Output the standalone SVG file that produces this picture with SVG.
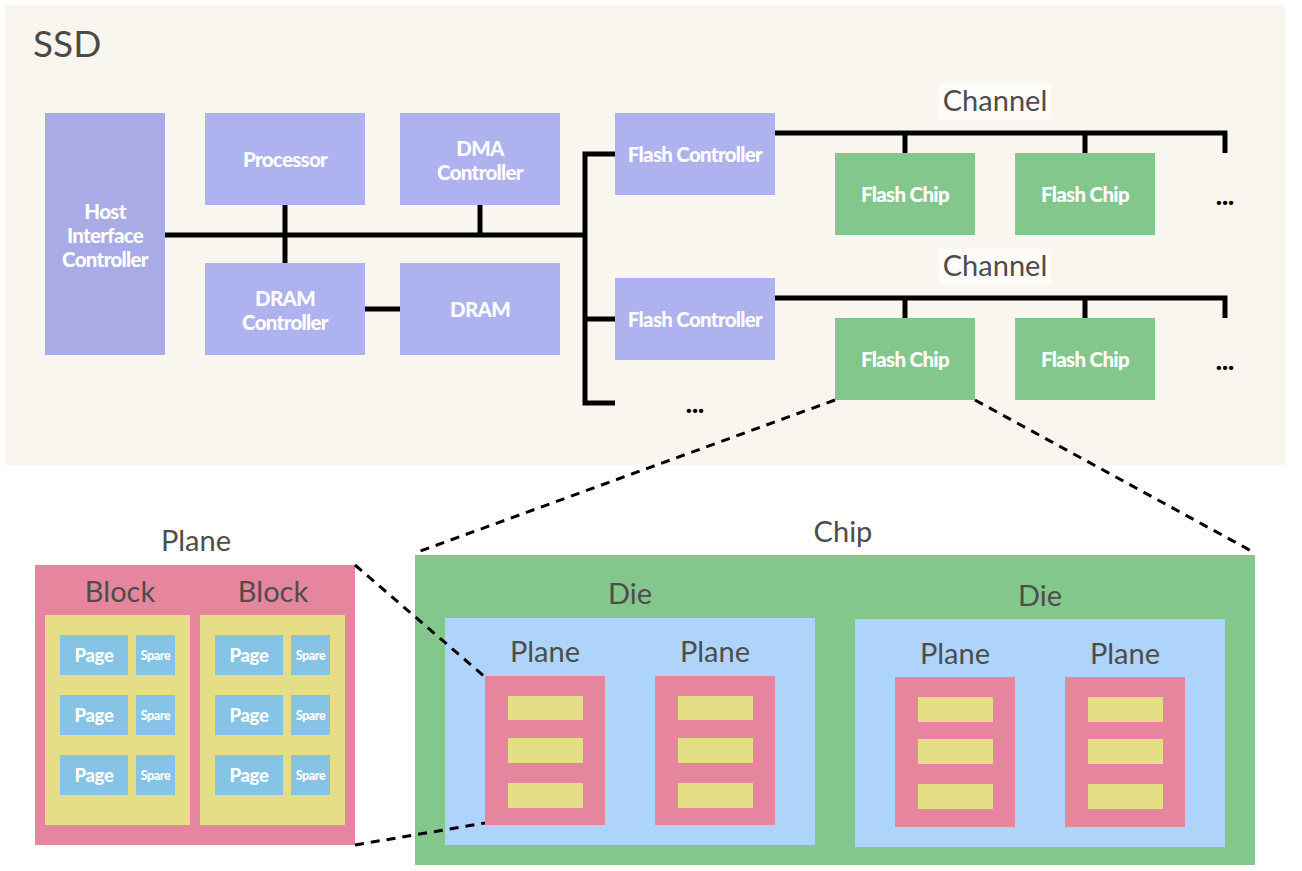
<svg xmlns="http://www.w3.org/2000/svg" width="1302" height="871" viewBox="0 0 1302 871">
<style>
.bg{fill:#f8f6ee}
.ctl{fill:#aeb2ee}
.host{fill:#a9abe6}
.chip{fill:#84c78d}
.die{fill:#afd4fb}
.plane{fill:#e5869e}
.blk{fill:#e6de87}
.page{fill:#85c4e5}
.nt{font-family:Lato,"Open Sans","DejaVu Sans",sans-serif;font-weight:900;fill:#ffffff;font-size:20.5px;text-anchor:middle;letter-spacing:-0.7px}
.lb{font-family:Lato,"Open Sans","DejaVu Sans",sans-serif;fill:#4d4d4d;font-size:29px;text-anchor:middle}
.pt{font-family:Lato,"Open Sans","DejaVu Sans",sans-serif;font-weight:900;fill:#ffffff;font-size:18.5px;text-anchor:middle;letter-spacing:-0.3px}
.st{font-family:Lato,"Open Sans","DejaVu Sans",sans-serif;font-weight:900;fill:#ffffff;font-size:12.5px;text-anchor:middle;letter-spacing:-0.4px}
.dots{font-family:Lato,"Open Sans","DejaVu Sans",sans-serif;font-weight:900;fill:#000000;font-size:26px;text-anchor:middle}
.bus{fill:none;stroke:#000;stroke-width:5}
.dash{fill:none;stroke:#000;stroke-width:3;stroke-dasharray:9 7}
</style>
<rect width="1302" height="871" fill="#ffffff"/>
<g id="ssd">
<rect class="bg" x="5" y="5" width="1280" height="460"/>
<text x="33" y="57" font-family="Lato,'Open Sans',sans-serif" font-size="37" fill="#4a4a4a">SSD</text>
</g>
<g id="host"><rect class="host" x="45" y="113" width="120" height="242"/>
<text class="nt" x="105" y="219">Host</text><text class="nt" x="105" y="243">Interface</text><text class="nt" x="105" y="267">Controller</text></g>
<g id="processor"><rect class="ctl" x="205" y="113" width="160" height="92"/><text class="nt" x="285" y="167">Processor</text></g>
<g id="dma"><rect class="ctl" x="400" y="113" width="160" height="92"/><text class="nt" x="480" y="156">DMA</text><text class="nt" x="480" y="180">Controller</text></g>
<g id="dramctl"><rect class="ctl" x="205" y="263" width="160" height="92"/><text class="nt" x="285" y="306">DRAM</text><text class="nt" x="285" y="330">Controller</text></g>
<g id="dram"><rect class="ctl" x="400" y="263" width="160" height="92"/><text class="nt" x="480" y="317">DRAM</text></g>
<g id="fc1"><rect class="ctl" x="615" y="113" width="160" height="82"/><text class="nt" x="695" y="162">Flash Controller</text></g>
<g id="fc2"><rect class="ctl" x="615" y="278" width="160" height="82"/><text class="nt" x="695" y="327">Flash Controller</text></g>
<g id="more-fc"><text class="dots" x="695" y="413">...</text></g>
<g id="channel1"><rect x="939" y="84" width="112" height="35" fill="#fdfcf9"/><text class="lb" x="995" y="111">Channel</text></g>
<g id="channel2"><rect x="939" y="249" width="112" height="35" fill="#fdfcf9"/><text class="lb" x="995" y="276">Channel</text></g>
<g id="chip11"><rect class="chip" x="835" y="153" width="140" height="82"/><text class="nt" x="905" y="202">Flash Chip</text></g>
<g id="chip12"><rect class="chip" x="1015" y="153" width="140" height="82"/><text class="nt" x="1085" y="202">Flash Chip</text></g>
<g id="more1"><text class="dots" x="1225" y="205">...</text></g>
<g id="chip21"><rect class="chip" x="835" y="318" width="140" height="82"/><text class="nt" x="905" y="367">Flash Chip</text></g>
<g id="chip22"><rect class="chip" x="1015" y="318" width="140" height="82"/><text class="nt" x="1085" y="367">Flash Chip</text></g>
<g id="more2"><text class="dots" x="1225" y="370">...</text></g>

<g id="plane-detail">
<text class="lb" x="196" y="551">Plane</text>
<rect class="plane" x="35" y="565" width="320" height="280"/>
<text class="lb" x="120" y="602">Block</text>
<text class="lb" x="273" y="602">Block</text>
<rect class="blk" x="45" y="615" width="145" height="210"/>
<rect class="blk" x="200" y="615" width="145" height="210"/>
<g id="b1p1"><rect class="page" x="60" y="635" width="68" height="40"/><text class="pt" x="94" y="662">Page</text><rect class="page" x="136" y="635" width="39" height="40"/><text class="st" x="155.5" y="660">Spare</text></g>
<g id="b1p2"><rect class="page" x="60" y="695" width="68" height="40"/><text class="pt" x="94" y="722">Page</text><rect class="page" x="136" y="695" width="39" height="40"/><text class="st" x="155.5" y="720">Spare</text></g>
<g id="b1p3"><rect class="page" x="60" y="755" width="68" height="40"/><text class="pt" x="94" y="782">Page</text><rect class="page" x="136" y="755" width="39" height="40"/><text class="st" x="155.5" y="780">Spare</text></g>
<g id="b2p1"><rect class="page" x="215" y="635" width="68" height="40"/><text class="pt" x="249" y="662">Page</text><rect class="page" x="291" y="635" width="39" height="40"/><text class="st" x="310.5" y="660">Spare</text></g>
<g id="b2p2"><rect class="page" x="215" y="695" width="68" height="40"/><text class="pt" x="249" y="722">Page</text><rect class="page" x="291" y="695" width="39" height="40"/><text class="st" x="310.5" y="720">Spare</text></g>
<g id="b2p3"><rect class="page" x="215" y="755" width="68" height="40"/><text class="pt" x="249" y="782">Page</text><rect class="page" x="291" y="755" width="39" height="40"/><text class="st" x="310.5" y="780">Spare</text></g>
</g>

<g id="chip-detail">
<text class="lb" x="843" y="542">Chip</text>
<rect class="chip" x="415" y="555" width="840" height="310"/>
<g id="die1">
<text class="lb" x="630" y="604">Die</text>
<rect class="die" x="445" y="618" width="370" height="227"/>
<text class="lb" x="545" y="662">Plane</text>
<text class="lb" x="715" y="662">Plane</text>
<rect class="plane" x="485" y="676" width="120" height="149"/>
<rect class="blk" x="508" y="696" width="75" height="24"/><rect class="blk" x="508" y="738" width="75" height="25"/><rect class="blk" x="508" y="783" width="75" height="25"/>
<rect class="plane" x="655" y="676" width="120" height="149"/>
<rect class="blk" x="678" y="696" width="75" height="24"/><rect class="blk" x="678" y="738" width="75" height="25"/><rect class="blk" x="678" y="783" width="75" height="25"/>
</g>
<g id="die2">
<text class="lb" x="1040" y="606">Die</text>
<rect class="die" x="855" y="619" width="370" height="228"/>
<text class="lb" x="955" y="664">Plane</text>
<text class="lb" x="1125" y="664">Plane</text>
<rect class="plane" x="895" y="677" width="120" height="150"/>
<rect class="blk" x="918" y="697" width="75" height="25"/><rect class="blk" x="918" y="739" width="75" height="25"/><rect class="blk" x="918" y="784" width="75" height="25"/>
<rect class="plane" x="1065" y="677" width="120" height="150"/>
<rect class="blk" x="1088" y="697" width="75" height="25"/><rect class="blk" x="1088" y="739" width="75" height="25"/><rect class="blk" x="1088" y="784" width="75" height="25"/>
</g>
</g>
<g id="connectors">
<path class="bus" d="M165 235 H585"/>
<path class="bus" d="M285 205 V263"/>
<path class="bus" d="M480 205 V235"/>
<path class="bus" d="M365 309 H400"/>
<path class="bus" d="M615 154 H585 V403 H615"/>
<path class="bus" d="M585 319 H615"/>
<path class="bus" d="M775 133 H1225 V153"/>
<path class="bus" d="M905 133 V153 M1085 133 V153"/>
<path class="bus" d="M775 298 H1225 V318"/>
<path class="bus" d="M905 298 V318 M1085 298 V318"/>
<path class="dash" d="M835 400 L415 553"/>
<path class="dash" d="M975 400 L1255 553"/>
<path class="dash" d="M355 565 L485 677"/>
<path class="dash" d="M355 845 L485 823"/>
</g>
</svg>
